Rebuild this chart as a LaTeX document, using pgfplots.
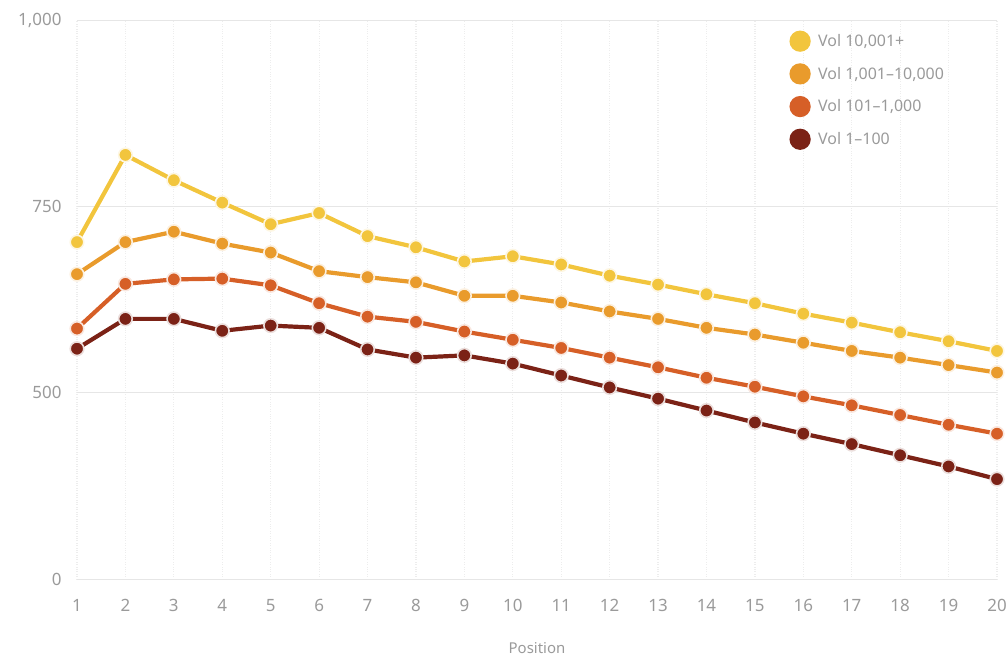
\documentclass[border=0pt]{standalone}
\usepackage{pgfplots}
\pgfplotsset{compat=1.18}
\usepackage{fontspec}
\setmainfont{Noto Sans}
\definecolor{cA}{HTML}{F2C53D}
\definecolor{cB}{HTML}{E99B2C}
\definecolor{cC}{HTML}{D65F27}
\definecolor{cD}{HTML}{7B2216}
\definecolor{tickgray}{HTML}{9A9A9A}
\definecolor{gridgray}{HTML}{E6E6E6}
\begin{document}
\begin{tikzpicture}
\path[use as bounding box] (-77bp,-81bp) rectangle (930bp,579bp);
\begin{axis}[
  at={(0,0)}, anchor=south west,
  scale only axis, width=920bp, height=559bp,
  xmin=1, xmax=20, ymin=250, ymax=1000,
  clip=false,
  axis line style={draw=none},
  tick style={draw=none},
  xtick={1,...,20},
  ytick={250,500,750,1000},
  yticklabels={0,500,750,{1,000}},
  ymajorgrids, xmajorgrids,
  /pgf/number format/assume math mode=true,
  ticklabel style={font=\fontsize{17}{20}\selectfont, text=tickgray},
  yticklabel style={xshift=-12bp},
  xticklabel style={yshift=-17bp},
  xlabel={Position},
  xlabel style={font=\fontsize{15}{18}\selectfont, text=tickgray, yshift=-24bp},
  legend style={at={(0.771,0.985)}, anchor=north west, draw=none, fill=none,
    font=\fontsize{16}{19}\selectfont, text=tickgray,
    row sep=11.5bp, cells={anchor=west}},
  legend image code/.code={\fill[#1] (0bp,0bp) circle (8.5bp); \path (14bp,0bp);},
  legend cell align=left,
]
\pgfplotsset{
  x grid style={gridgray!70, dotted, line width=1.2bp},
  y grid style={gridgray, line width=0.9bp},
}
\addplot[cA, line width=4.2bp, mark=*, mark size=6.8bp, mark options={fill=cA, draw=white!85!cA, line width=1.6bp}] coordinates {
(1,702)(2,819)(3,785)(4,755)(5,726)(6,741)(7,710)(8,695)(9,676)(10,683)
(11,672)(12,657)(13,645)(14,632)(15,620)(16,606)(17,594)(18,581)(19,569)(20,556)};
\addlegendentry{Vol 10,001+}
\addplot[cB, line width=4.2bp, mark=*, mark size=6.8bp, mark options={fill=cB, draw=white!85!cB, line width=1.6bp}] coordinates {
(1,659)(2,702)(3,716)(4,700)(5,688)(6,663)(7,655)(8,648)(9,630)(10,630)
(11,621)(12,609)(13,599)(14,587)(15,578)(16,567)(17,556)(18,547)(19,537)(20,527)};
\addlegendentry{Vol 1,001--10,000}
\addplot[cC, line width=4.2bp, mark=*, mark size=6.8bp, mark options={fill=cC, draw=white!85!cC, line width=1.6bp}] coordinates {
(1,586)(2,646)(3,652)(4,653)(5,644)(6,620)(7,602)(8,595)(9,582)(10,571)
(11,560)(12,547)(13,534)(14,520)(15,508)(16,495)(17,483)(18,470)(19,457)(20,445)};
\addlegendentry{Vol 101--1,000}
\addplot[cD, line width=4.2bp, mark=*, mark size=6.8bp, mark options={fill=cD, draw=white!85!cD, line width=1.6bp}] coordinates {
(1,559)(2,599)(3,599)(4,583)(5,590)(6,587)(7,558)(8,547)(9,550)(10,539)
(11,523)(12,507)(13,492)(14,476)(15,460)(16,445)(17,431)(18,416)(19,401)(20,384)};
\addlegendentry{Vol 1--100}
\end{axis}
\end{tikzpicture}
\end{document}
